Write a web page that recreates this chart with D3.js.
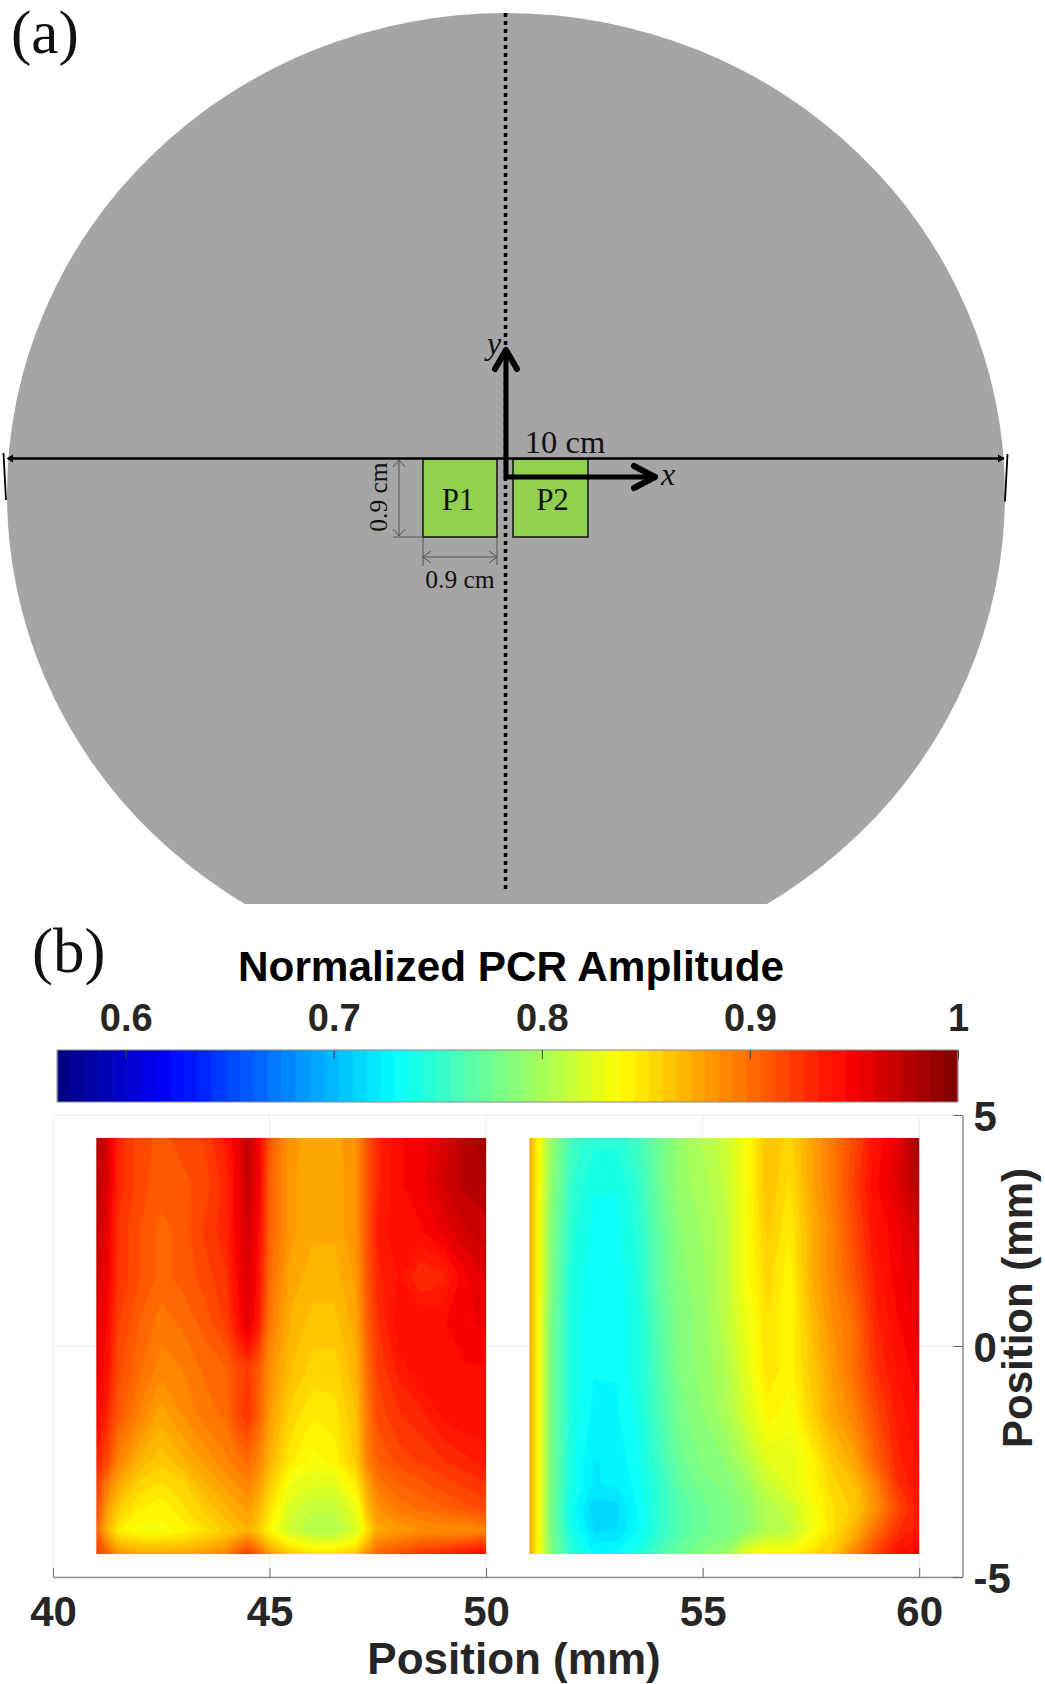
<!DOCTYPE html>
<html>
<head>
<meta charset="utf-8">
<script src="https://cdn.jsdelivr.net/npm/d3@7"></script>
<style>
    html, body { margin: 0; padding: 0; background: #fff; }
    svg { display: block; }
    .serif { font-family: "Liberation Serif", serif; fill: #111; }
    .bold { font-family: "Liberation Sans", sans-serif; font-weight: bold; fill: #262626; }
</style>
</head>
<body>
<svg id="chart" width="1045" height="1684"></svg>
<script>
// Colour bar
const colorMin = 0.567;
const colorMax = 1;
const colorLevels = 64;
const colorTicks = [0.6, 0.7, 0.8, 0.9, 1];

// Axis ticks
const xTicks = [40, 45, 50, 55, 60];
const yTicks = [-5, 0, 5];

// Row positions (mm) shared by both patches
const rowsMm = [4.5, 3.5, 2.5, 1.5, 0.5, -0.5, -1.5, -2.5, -3, -3.5, -4, -4.5];

// Patch P1
const p1Columns = [41, 41.25, 41.5, 42, 42.5, 43, 43.5, 44, 44.25, 44.5, 44.75, 45, 45.5, 46, 46.5, 47, 47.25, 47.5, 48, 48.5, 49, 49.5, 50];
const p1Values = [
    [.975, .965, .93, .915, .91, .915, .92, .935, .955, .97, .95, .91, .88, .875, .875, .885, .91, .93, .945, .95, .96, .975, .985],
    [.975, .96, .93, .915, .908, .91, .915, .93, .95, .97, .95, .905, .88, .873, .873, .885, .91, .93, .945, .95, .965, .975, .98],
    [.97, .955, .925, .912, .903, .908, .92, .93, .95, .965, .945, .905, .88, .873, .873, .885, .91, .935, .945, .945, .955, .965, .97],
    [.965, .95, .925, .912, .903, .908, .915, .925, .945, .96, .94, .9, .875, .868, .868, .88, .91, .93, .94, .925, .93, .95, .96],
    [.96, .945, .92, .905, .895, .9, .908, .92, .94, .96, .935, .895, .87, .862, .862, .875, .905, .925, .945, .945, .945, .95, .955],
    [.955, .94, .915, .9, .888, .892, .9, .905, .915, .92, .91, .885, .865, .855, .855, .87, .9, .92, .935, .945, .945, .945, .945],
    [.945, .93, .91, .89, .875, .885, .895, .9, .915, .925, .905, .88, .855, .845, .848, .865, .895, .915, .925, .93, .94, .945, .945],
    [.93, .915, .89, .87, .86, .87, .88, .89, .895, .9, .89, .87, .845, .835, .84, .86, .89, .905, .915, .92, .925, .93, .935],
    [.92, .895, .875, .855, .85, .855, .87, .88, .885, .89, .88, .86, .83, .825, .825, .845, .875, .895, .905, .91, .915, .92, .925],
    [.915, .88, .86, .845, .84, .85, .86, .87, .875, .88, .87, .85, .82, .812, .812, .83, .865, .885, .895, .9, .905, .91, .915],
    [.905, .87, .845, .835, .835, .84, .85, .86, .865, .87, .86, .84, .815, .805, .805, .82, .85, .875, .88, .885, .885, .885, .89],
    [.92, .905, .885, .875, .875, .875, .88, .89, .91, .925, .905, .88, .86, .85, .85, .86, .885, .905, .915, .925, .93, .94, .945]
];

// Patch P2
const p2Columns = [51, 51.2, 51.5, 52, 52.5, 53, 53.5, 54, 54.5, 55, 55.5, 56, 56.5, 57, 57.5, 58, 58.5, 59, 59.5, 60];
const p2Values = [
    [.875, .84, .795, .755, .745, .745, .755, .775, .795, .805, .815, .835, .865, .855, .875, .895, .915, .94, .955, .985],
    [.875, .84, .79, .75, .737, .737, .75, .775, .795, .8, .812, .835, .865, .85, .875, .895, .92, .945, .96, .98],
    [.875, .84, .785, .745, .733, .733, .745, .77, .79, .798, .808, .835, .86, .845, .87, .89, .915, .94, .95, .965],
    [.875, .84, .785, .74, .732, .732, .743, .77, .788, .795, .808, .835, .855, .84, .87, .89, .91, .935, .95, .96],
    [.875, .84, .78, .74, .73, .73, .74, .765, .785, .793, .808, .83, .85, .838, .865, .885, .9, .93, .945, .955],
    [.875, .84, .78, .74, .73, .73, .74, .763, .785, .793, .803, .825, .85, .84, .86, .88, .9, .925, .94, .95],
    [.875, .84, .78, .74, .727, .728, .738, .76, .78, .79, .8, .82, .84, .835, .855, .875, .89, .915, .935, .945],
    [.875, .84, .78, .737, .722, .724, .735, .755, .775, .785, .79, .805, .825, .825, .84, .86, .875, .905, .93, .94],
    [.875, .84, .78, .737, .722, .724, .732, .75, .77, .78, .785, .795, .815, .825, .838, .855, .865, .89, .925, .94],
    [.875, .84, .78, .732, .712, .713, .73, .75, .765, .775, .78, .79, .805, .815, .832, .85, .86, .885, .915, .935],
    [.875, .84, .78, .737, .715, .716, .73, .75, .765, .775, .78, .79, .805, .81, .83, .85, .87, .9, .925, .935],
    [.875, .84, .785, .745, .73, .73, .74, .76, .775, .785, .795, .83, .84, .84, .85, .86, .89, .92, .94, .95]
];

const svg = d3.select('#chart');

// ---- Panel (a): schematic ----
const a = svg.append('g');
const defs = svg.append('defs');

defs.append('clipPath').attr('id', 'panel-a-clip')
    .append('rect').attr('x', 0).attr('y', 0).attr('width', 1045).attr('height', 904);

a.append('ellipse')
    .attr('cx', 506).attr('cy', 494)
    .attr('rx', 499).attr('ry', 481)
    .attr('fill', '#a5a5a5')
    .attr('clip-path', 'url(#panel-a-clip)');

// Vertical dotted line
a.append('line')
    .attr('x1', 505.5).attr('y1', 13).attr('x2', 505.5).attr('y2', 891)
    .attr('stroke', '#000').attr('stroke-width', 3.5).attr('stroke-dasharray', '4,4');

// Patches
[['P1', 423, 497, -2], ['P2', 513, 588, 2]].forEach(([label, x0, x1, shift]) => {
    a.append('rect')
        .attr('x', x0).attr('y', 459).attr('width', x1 - x0).attr('height', 78)
        .attr('fill', '#92d050').attr('stroke', '#111').attr('stroke-width', 1.5);
    a.append('text').attr('class', 'serif')
        .attr('x', (x0 + x1) / 2 + shift).attr('y', 510)
        .attr('text-anchor', 'middle').style('font-size', '31px').text(label);
});

// 10 cm line with arrow tips and end bars
a.append('line')
    .attr('x1', 8).attr('y1', 458.5).attr('x2', 1004).attr('y2', 458.5)
    .attr('stroke', '#000').attr('stroke-width', 2.5);
['M6.5,458.5 L13,454.5 L13,462.5 Z', 'M1004.5,458.5 L998,454.5 L998,462.5 Z'].forEach(d => {
    a.append('path').attr('d', d).attr('fill', '#000');
});
[[3.5, 453, 6, 500], [1007.5, 454, 1005, 501.5]].forEach(([x1, y1, x2, y2]) => {
    a.append('line')
        .attr('x1', x1).attr('y1', y1).attr('x2', x2).attr('y2', y2)
        .attr('stroke', '#000').attr('stroke-width', 1.8);
});
a.append('text').attr('class', 'serif')
    .attr('x', 565).attr('y', 453)
    .attr('text-anchor', 'middle').style('font-size', '32.5px').text('10 cm');

// Small dimension lines
const dimColor = '#555';
[[399, 460, 399, 536], [423, 557, 497, 557], [393, 537, 423, 537], [423, 537, 423, 566], [497, 537, 497, 565]].forEach(([x1, y1, x2, y2]) => {
    a.append('line')
        .attr('x1', x1).attr('y1', y1).attr('x2', x2).attr('y2', y2)
        .attr('stroke', dimColor).attr('stroke-width', 1);
});
[
    'M393,467 L399,460 L405,467', 'M393,529 L399,536 L405,529',
    'M431,551 L423,557 L431,563', 'M489,551 L497,557 L489,563'
].forEach(d => {
    a.append('path').attr('d', d).attr('fill', 'none').attr('stroke', dimColor).attr('stroke-width', 1);
});
a.append('text').attr('class', 'serif')
    .attr('transform', 'translate(387,497) rotate(-90)')
    .attr('text-anchor', 'middle').style('font-size', '25.5px').text('0.9 cm');
a.append('text').attr('class', 'serif')
    .attr('x', 460).attr('y', 588)
    .attr('text-anchor', 'middle').style('font-size', '25.5px').text('0.9 cm');

// Coordinate arrows
a.append('path')
    .attr('d', 'M506,350 L506,477 L654,477')
    .attr('fill', 'none').attr('stroke', '#000').attr('stroke-width', 5);
['M495,369 L506,350 L517,369', 'M634,466 L655,477 L634,488'].forEach(d => {
    a.append('path').attr('d', d)
        .attr('fill', 'none').attr('stroke', '#000')
        .attr('stroke-width', 6).attr('stroke-linecap', 'round').attr('stroke-linejoin', 'round');
});
a.append('text').attr('class', 'serif')
    .attr('x', 494).attr('y', 354).attr('text-anchor', 'middle')
    .style('font-size', '32px').style('font-style', 'italic').text('y');
a.append('text').attr('class', 'serif')
    .attr('x', 668).attr('y', 485).attr('text-anchor', 'middle')
    .style('font-size', '32px').style('font-style', 'italic').text('x');

svg.append('text').attr('class', 'serif')
    .attr('x', 11).attr('y', 53).style('font-size', '61px').text('(a)');
svg.append('text').attr('class', 'serif')
    .attr('x', 32).attr('y', 972).style('font-size', '63px').text('(b)');

// ---- Panel (b): colour scale ----
const jet = d3.scaleLinear()
    .domain([0, 0.125, 0.375, 0.625, 0.875, 1])
    .range(['#00007f', '#0000ff', '#00ffff', '#ffff00', '#ff0000', '#7f0000']);
const levelStep = (colorMax - colorMin) / colorLevels;
const levels = d3.range(colorLevels);
const levelColor = i => jet((i + 0.5) / colorLevels);

defs.append('filter').attr('id', 'soft')
    .attr('filterUnits', 'userSpaceOnUse')
    .attr('x', 0).attr('y', 1000).attr('width', 1045).attr('height', 684)
    .append('feGaussianBlur').attr('stdDeviation', 1.2);

svg.append('text').attr('class', 'bold')
    .attr('x', 511).attr('y', 981)
    .attr('text-anchor', 'middle')
    .style('font-size', '42.3px').style('fill', '#000')
    .text('Normalized PCR Amplitude');

const barScale = d3.scaleLinear().domain([colorMin, colorMax]).range([57, 958]);
const barTop = 1050;
const barHeight = 52;

defs.append('clipPath').attr('id', 'bar-clip')
    .append('rect').attr('x', 57).attr('y', barTop).attr('width', 901).attr('height', barHeight);

svg.append('g').attr('clip-path', 'url(#bar-clip)')
    .append('g').attr('filter', 'url(#soft)')
    .selectAll('rect')
    .data(levels)
    .join('rect')
    .attr('x', i => barScale(colorMin + i * levelStep))
    .attr('y', barTop - 5)
    .attr('width', barScale(colorMin + levelStep) - barScale(colorMin) + 0.5)
    .attr('height', barHeight + 10)
    .attr('fill', levelColor);

svg.append('rect')
    .attr('x', 57).attr('y', barTop).attr('width', 901).attr('height', barHeight)
    .attr('fill', 'none').attr('stroke', '#888').attr('stroke-width', 1);

const barAxis = svg.append('g')
    .attr('transform', `translate(0,${barTop})`)
    .call(d3.axisTop(barScale).tickValues(colorTicks).tickSize(-9).tickPadding(19).tickFormat(d3.format('~g')));
barAxis.select('.domain').remove();
barAxis.selectAll('line').attr('stroke', '#444');
barAxis.selectAll('text').attr('class', 'bold').style('font-size', '38px').attr('fill', null);

// ---- Panel (b): map axes ----
const x = d3.scaleLinear().domain([40, 61]).range([53, 962.5]);
const y = d3.scaleLinear().domain([-5, 5]).range([1577, 1115]);

// Grid and light top/left frame
const grid = svg.append('g');
xTicks.forEach(t => {
    grid.append('line')
        .attr('x1', x(t)).attr('x2', x(t)).attr('y1', y(5)).attr('y2', y(-5))
        .attr('stroke', '#ececec');
});
yTicks.forEach(t => {
    grid.append('line')
        .attr('x1', x(40)).attr('x2', x(61)).attr('y1', y(t)).attr('y2', y(t))
        .attr('stroke', '#ececec');
});

// Filled contours of one patch on its value grid
function drawPatch(id, columns, values) {
    const nx = columns.length;
    const ny = rowsMm.length;
    // grid index (cell centre at i + 0.5) to mm
    const colScale = d3.scaleLinear().domain(columns.map((d, i) => i + 0.5)).range(columns);
    const rowScale = d3.scaleLinear().domain(rowsMm.map((d, i) => i + 0.5)).range(rowsMm);

    const projection = d3.geoTransform({
        point: function(px, py) {
            this.stream.point(x(colScale(px)), y(rowScale(py)));
        }
    });
    const path = d3.geoPath(projection);

    const thresholds = levels.map(i => colorMin + i * levelStep);
    const contours = d3.contours()
        .size([nx, ny])
        .thresholds(thresholds)(values.flat());

    const x0 = x(columns[0]);
    const x1 = x(columns[nx - 1]);
    const y0 = y(rowsMm[0]);
    const y1 = y(rowsMm[ny - 1]);

    defs.append('clipPath').attr('id', id)
        .append('rect')
        .attr('x', x0).attr('y', y0).attr('width', x1 - x0).attr('height', y1 - y0);

    const inner = svg.append('g')
        .attr('clip-path', `url(#${id})`)
        .append('g')
        .attr('filter', 'url(#soft)');

    inner.append('rect')
        .attr('x', x0 - 10).attr('y', y0 - 10).attr('width', x1 - x0 + 20).attr('height', y1 - y0 + 20)
        .attr('fill', levelColor(0));

    inner.selectAll('path')
        .data(contours)
        .join('path')
        .attr('d', path)
        .attr('fill', (d, i) => levelColor(i));
}

drawPatch('clip-p1', p1Columns, p1Values);
drawPatch('clip-p2', p2Columns, p2Values);

// Axes in front of the maps
const xAxis = svg.append('g')
    .attr('transform', `translate(0,${y(-5)})`)
    .call(d3.axisBottom(x).tickValues(xTicks).tickSize(-9).tickPadding(19).tickFormat(d => String(d)).tickSizeOuter(0));
const yAxis = svg.append('g')
    .attr('transform', `translate(${x(61)},0)`)
    .call(d3.axisRight(y).tickValues(yTicks).tickSize(-9).tickPadding(11).tickFormat(d => String(d)).tickSizeOuter(0));

[xAxis, yAxis].forEach(ax => {
    ax.select('.domain').attr('stroke', '#8c8c8c').attr('stroke-width', 1.5);
    ax.selectAll('line').attr('stroke', '#666');
    ax.selectAll('text').attr('class', 'bold').style('font-size', '42px').attr('fill', null);
});
yAxis.selectAll('text').attr('dy', '0.38em');

svg.append('text').attr('class', 'bold')
    .attr('x', 514).attr('y', 1674)
    .attr('text-anchor', 'middle').style('font-size', '44px')
    .text('Position (mm)');
svg.append('text').attr('class', 'bold')
    .attr('transform', 'translate(1032,1308) rotate(-90)')
    .attr('text-anchor', 'middle').style('font-size', '42px')
    .text('Position (mm)');
</script>
</body>
</html>
